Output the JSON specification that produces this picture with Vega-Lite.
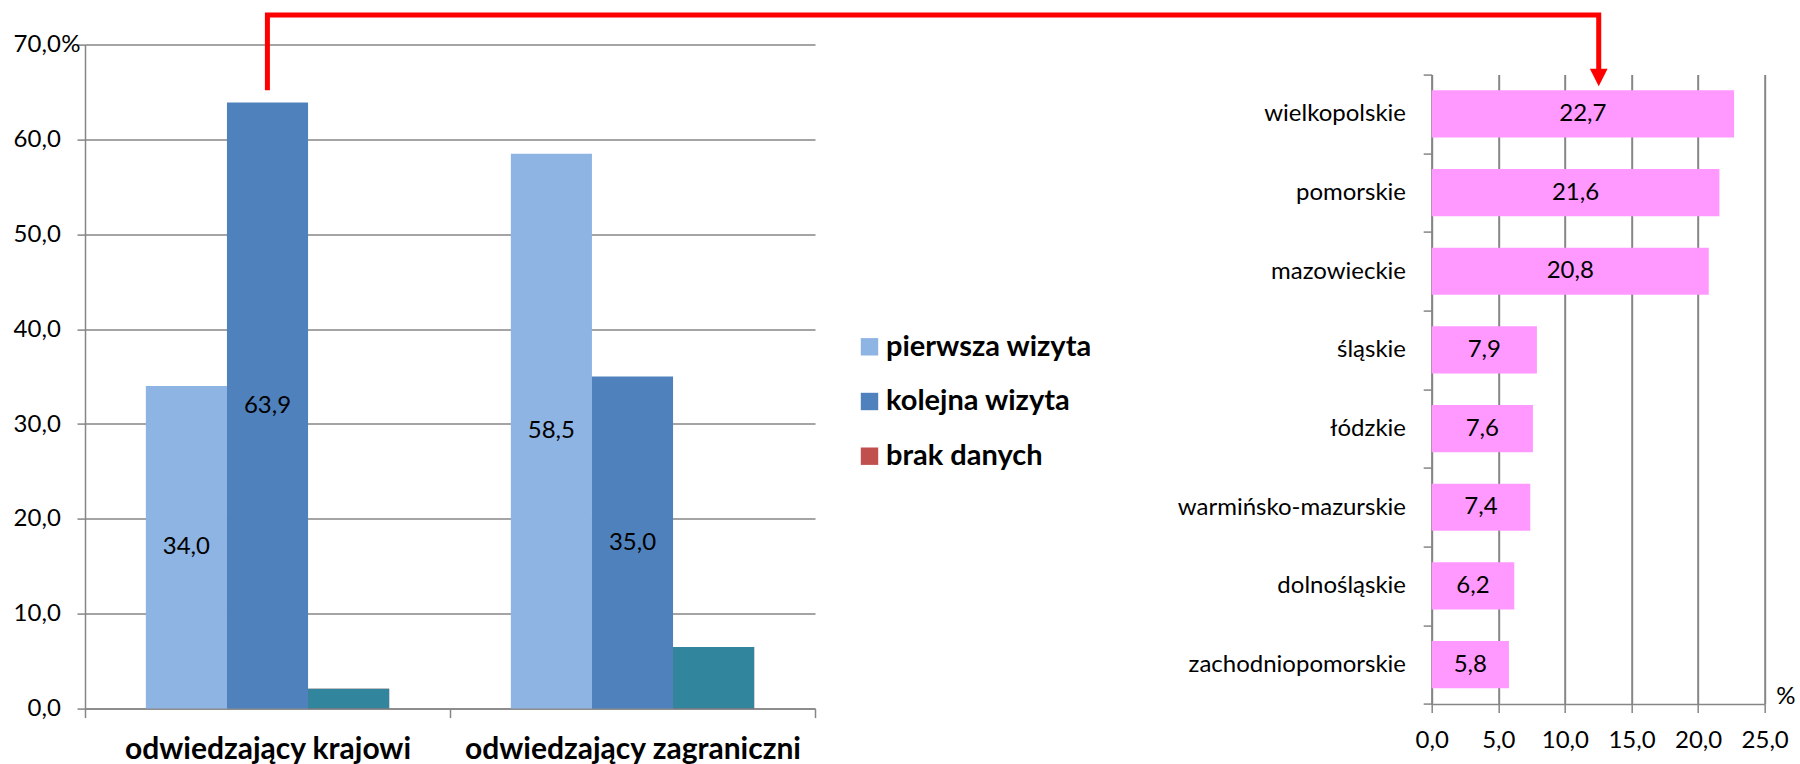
{
  "$schema": "https://vega.github.io/schema/vega-lite/v6.json",
  "padding": {"left": 13, "top": 4.6, "right": 0, "bottom": 0},
  "config": {
    "font": "Lato",
    "view": {"stroke": null},
    "locale": {"number": {"decimal": ",", "thousands": " ", "grouping": [3], "currency": ["", " zł"]}},
    "axis": {
      "labelFont": "Lato", "labelFontSize": 24, "labelColor": "#000000", "labelLimit": 0,
      "labelOverlap": false, "labelFlush": false,
      "domainColor": "#868686", "tickColor": "#868686", "gridColor": "#868686",
      "domainWidth": 1.5, "tickWidth": 1.5, "gridWidth": 1.5,
      "titleFont": "Lato", "titleColor": "#000000", "titleFontWeight": "normal", "titleFontSize": 24
    },
    "text": {"font": "Lato", "fontSize": 24, "color": "#000000"}
  },
  "datasets": {
    "visits": [
      {"group": "odwiedzający krajowi", "series": "pierwsza wizyta", "value": 34.0},
      {"group": "odwiedzający krajowi", "series": "kolejna wizyta", "value": 63.9},
      {"group": "odwiedzający krajowi", "series": "brak danych", "value": 2.1},
      {"group": "odwiedzający zagraniczni", "series": "pierwsza wizyta", "value": 58.5},
      {"group": "odwiedzający zagraniczni", "series": "kolejna wizyta", "value": 35.0},
      {"group": "odwiedzający zagraniczni", "series": "brak danych", "value": 6.5}
    ],
    "regions": [
      {"region": "wielkopolskie", "value": 22.7},
      {"region": "pomorskie", "value": 21.6},
      {"region": "mazowieckie", "value": 20.8},
      {"region": "śląskie", "value": 7.9},
      {"region": "łódzkie", "value": 7.6},
      {"region": "warmińsko-mazurskie", "value": 7.4},
      {"region": "dolnośląskie", "value": 6.2},
      {"region": "zachodniopomorskie", "value": 5.8}
    ],
    "arrow": [
      {"step": 1, "x": -87.41, "y": 65.18},
      {"step": 2, "x": -87.41, "y": 73.11},
      {"step": 3, "x": 12.54, "y": 73.11},
      {"step": 4, "x": 12.54, "y": 67.29}
    ],
    "arrowHead": [
      {"x": 12.54, "y": 66.53}
    ]
  },
  "bounds": "flush",
  "spacing": 616.7,
  "resolve": {"scale": {"color": "independent", "x": "independent", "y": "independent"}},
  "hconcat": [
    {
      "width": 730,
      "height": 664,
      "data": {"name": "visits"},
      "resolve": {"scale": {"y": "independent"}},
      "layer": [
        {
          "mark": {"type": "bar"},
          "encoding": {
            "x": {
              "field": "group", "type": "nominal", "sort": null,
              "scale": {"paddingInner": 0, "paddingOuter": 0},
              "axis": {"title": null, "labelFontWeight": "bold", "labelFontSize": 30, "labelAngle": 0,
                       "tickBand": "extent", "tickSize": 9, "labelPadding": 17, "grid": false}
            },
            "xOffset": {
              "field": "series", "type": "nominal",
              "scale": {"domain": ["pierwsza wizyta", "kolejna wizyta", "brak danych"], "paddingInner": 0, "paddingOuter": 0.75}
            },
            "y": {
              "field": "value", "type": "quantitative",
              "scale": {"domain": [0, 70], "nice": false},
              "axis": {"values": [0, 10, 20, 30, 40, 50, 60, 70], "format": ".1f", "grid": true,
                       "tickSize": 8, "labelPadding": 16.7,
                       "title": "%", "titleAngle": 0, "titleX": -24.3, "titleY": 0,
                       "titleAlign": "left", "titleBaseline": "middle"}
            },
            "color": {
              "field": "series", "type": "nominal",
              "scale": {"domain": ["pierwsza wizyta", "kolejna wizyta", "brak danych"],
                        "range": ["#8EB4E3", "#4F81BD", "#C0504D"]},
              "legend": {
                "title": null, "orient": "none", "legendX": 770, "legendY": 287.7, "padding": 0,
                "symbolType": "square", "symbolSize": 303, "symbolOpacity": 1, "symbolStrokeWidth": 0,
                "labelFont": "Lato", "labelFontSize": 29, "labelFontWeight": "bold", "labelColor": "#000000",
                "labelOffset": 2, "rowPadding": 24.7, "labelLimit": 0
              }
            }
          }
        },
        {
          "transform": [{"filter": "datum.series == 'brak danych'"}],
          "mark": {"type": "bar", "color": "#31859C"},
          "encoding": {
            "x": {"field": "group", "type": "nominal", "sort": null},
            "xOffset": {
              "field": "series", "type": "nominal",
              "scale": {"domain": ["pierwsza wizyta", "kolejna wizyta", "brak danych"], "paddingInner": 0, "paddingOuter": 0.75}
            },
            "y": {"field": "value", "type": "quantitative", "scale": {"domain": [0, 70], "nice": false}, "axis": null}
          }
        },
        {
          "transform": [{"filter": "datum.series != 'brak danych'"}],
          "mark": {"type": "text"},
          "encoding": {
            "x": {"field": "group", "type": "nominal", "sort": null},
            "xOffset": {
              "field": "series", "type": "nominal",
              "scale": {"domain": ["pierwsza wizyta", "kolejna wizyta", "brak danych"], "paddingInner": 0, "paddingOuter": 0.75}
            },
            "y": {"field": "value", "type": "quantitative", "scale": {"domain": [0, 140], "nice": false}, "axis": null},
            "text": {"field": "value", "type": "quantitative", "format": ".1f"}
          }
        }
      ]
    },
    {
      "bounds": "flush",
      "spacing": 0,
      "vconcat": [
        {
          "width": 333,
          "height": 29.7,
          "layer": [
            {
              "data": {"name": "arrow"},
              "mark": {"type": "line", "color": "#FF0000", "strokeWidth": 5, "strokeJoin": "miter", "strokeCap": "butt", "clip": false},
              "encoding": {
                "x": {"field": "x", "type": "quantitative", "scale": {"domain": [0, 25], "nice": false, "zero": false}, "axis": null},
                "y": {"field": "y", "type": "quantitative", "scale": {"domain": [66.869, 70], "nice": false, "zero": false}, "axis": null},
                "order": {"field": "step", "type": "quantitative"}
              }
            },
            {
              "data": {"name": "arrowHead"},
              "mark": {"type": "point", "shape": "M-1,-1L1,-1L0,1Z", "size": 313, "filled": true, "color": "#FF0000", "opacity": 1, "strokeWidth": 0, "clip": false},
              "encoding": {
                "x": {"field": "x", "type": "quantitative"},
                "y": {"field": "y", "type": "quantitative"}
              }
            }
          ]
        },
        {
          "width": 333,
          "height": 629.3,
          "data": {"name": "regions"},
          "resolve": {"scale": {"x": "independent"}},
          "layer": [
            {
              "mark": {"type": "bar", "color": "#FF99FF", "height": {"band": 0.6}},
              "encoding": {
                "y": {
                  "field": "region", "type": "nominal", "sort": null,
                  "scale": {"paddingInner": 0, "paddingOuter": 0},
                  "axis": {"title": null, "tickBand": "extent", "tickSize": 8.5, "labelPadding": 17.7, "grid": false}
                },
                "x": {
                  "field": "value", "type": "quantitative",
                  "scale": {"domain": [0, 25], "nice": false},
                  "axis": {"values": [0, 5, 10, 15, 20, 25], "format": ".1f", "grid": true, "gridWidth": 2,
                           "tickSize": 8.5, "labelPadding": 16.5,
                           "title": "%", "titleAngle": 0, "titleX": 344, "titleY": 0,
                           "titleAlign": "left", "titleBaseline": "alphabetic"}
                }
              }
            },
            {
              "mark": {"type": "text"},
              "encoding": {
                "y": {"field": "region", "type": "nominal", "sort": null},
                "x": {"field": "value", "type": "quantitative", "scale": {"domain": [0, 50], "nice": false}, "axis": null},
                "text": {"field": "value", "type": "quantitative", "format": ".1f"}
              }
            }
          ]
        }
      ]
    }
  ]
}
